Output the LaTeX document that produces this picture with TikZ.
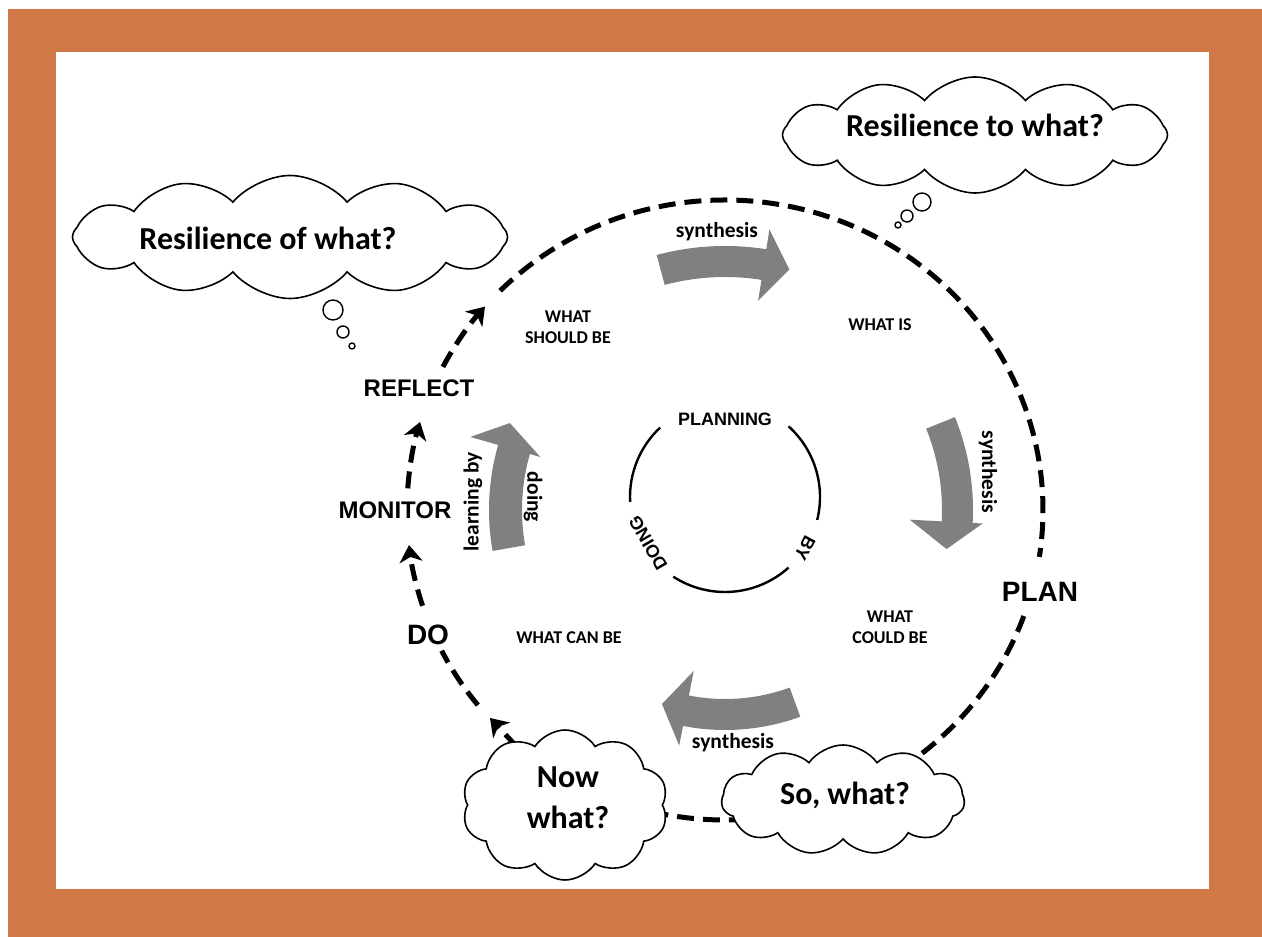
\documentclass[tikz,border=0pt]{standalone}
\usepackage{fontspec}
\setmainfont{Carlito}
\newfontfamily\arialf{Liberation Sans}
\usetikzlibrary{shapes.symbols,arrows.meta,calc}
\definecolor{frame}{RGB}{208,120,70}
\definecolor{arrowgray}{RGB}{128,128,128}
\newcommand\grayarc[8]{%
  \fill[arrowgray] ($(C)+(#1:#5pt)$) arc[start angle=#1,end angle=#2,radius=#5pt]
    -- ($(C)+(#2:#7pt)$) -- ($(C)+(#3:#8pt)$) -- ($(C)+(#2:#6pt)$)
    -- ($(C)+(#2:#4pt)$) arc[start angle=#2,end angle=#1,radius=#4pt] -- cycle;}
\begin{document}
\begin{tikzpicture}[x=1pt,y=1pt,
  cyc/.style={line width=5pt, dash pattern=on 17pt off 9pt},
  cyctip/.style={-{Stealth[length=17pt,width=23pt,inset=5pt]}},
  cloudbox/.style={cloud, cloud puffs=12, cloud puff arc=100, draw, line width=1.6pt, fill=white, cloud ignores aspect, inner sep=0pt},
  cloudtext/.style={font=\bfseries\fontsize{32}{41}\selectfont, align=center},
  stage/.style={font=\arialf\bfseries\fontsize{24}{28}\selectfont},
  bigstage/.style={font=\arialf\bfseries\fontsize{28}{32}\selectfont},
  inner/.style={font=\arialf\bfseries\fontsize{18}{20}\selectfont},
  small/.style={font=\bfseries\fontsize{18}{21}\selectfont, align=center},
  synth/.style={font=\bfseries\fontsize{21.5}{24}\selectfont},
  bubble/.style={circle, draw, line width=1.4pt, fill=white, inner sep=0pt}
]
\useasboundingbox (0,0) rectangle (1262,937);
\fill[white] (0,0) rectangle (1262,937);
\fill[frame] (8,0) rectangle (1262,928);
\fill[white] (56,48) rectangle (1209,885);

\coordinate (C) at (725,427);
\coordinate (c2) at (725,440);

% gray synthesis arrows
\grayarc{105}{81}{75}{233}{264}{212}{284}{249}
\grayarc{22}{-3}{-10}{217}{248}{185}{258}{225}
\grayarc{-70}{-101}{-108}{189}{220}{164}{240}{204}
\grayarc{190}{164}{158}{203}{236}{192}{265}{232}

% stage labels
\node[stage] (reflect) at (419,549) {REFLECT};
\node[stage] (monitor) at (395,427) {MONITOR};
\node[bigstage] (do) at (428,302) {DO};
\node[bigstage] (plan) at (1040,345) {PLAN};

% dashed cycle
\coordinate (p135) at ($(C)+(135:318pt and 310pt)$);
\coordinate (pm20) at ($(C)+(-20:318pt and 310pt)$);
\coordinate (nowout) at (517,190);
\coordinate (dotip) at (490,219);
\coordinate (pm141) at ($(C)+(-141:318pt and 310pt)$);
\coordinate (pm162) at ($(C)+(-162:318pt and 310pt)$);
\coordinate (p176) at ($(C)+(176:318pt and 310pt)$);
\coordinate (p152) at ($(C)+(152.5:318pt and 310pt)$);
\draw[cyc] (p135) arc[start angle=135, end angle=-8.7, x radius=318pt, y radius=310pt];
\draw[cyc] (pm20) arc[start angle=-20, end angle=-128, x radius=318pt, y radius=310pt];
\draw[cyc,cyctip] (nowout) -- (dotip);
\draw[cyc] (pm141) arc[start angle=-141, end angle=-153, x radius=318pt, y radius=310pt];
\draw[cyc,cyctip] (pm162) arc[start angle=-162, end angle=-173.5, x radius=318pt, y radius=310pt];
\draw[cyc,cyctip] (p176) arc[start angle=176, end angle=163.5, x radius=318pt, y radius=310pt];
\draw[cyc,cyctip] (p152) arc[start angle=152.5, end angle=139, x radius=318pt, y radius=310pt];

% clouds
\node[cloudbox, minimum width=435pt, minimum height=123pt] (cl1) at (290,700) {};
\node[cloudbox, minimum width=385pt, minimum height=116pt] (cl2) at (975,802) {};
\node[cloudbox, cloud puffs=10, cloud puff arc=115, minimum width=206pt, minimum height=150pt] (cl3) at (565,132) {};
\node[cloudbox, cloud puffs=11, cloud puff arc=110, minimum width=243pt, minimum height=110pt] (cl4) at (843,137) {};
\node[cloudtext] (q1) at (268,699) {Resilience of what?};
\node[cloudtext] (q2) at (975,812) {Resilience to what?};
\node[cloudtext] (q3) at (568,139) {Now\\what?};
\node[cloudtext] (q4) at (845,142) {So, what?};

% thought bubbles
\node[bubble, minimum size=20pt] (b1) at (333,627) {};
\node[bubble, minimum size=12pt] (b2) at (343,605) {};
\node[bubble, minimum size=6pt] (b3) at (352,591) {};
\node[bubble, minimum size=18pt] (b4) at (922,735) {};
\node[bubble, minimum size=12pt] (b5) at (907,721) {};
\node[bubble, minimum size=6pt] (b6) at (898,712) {};

% quadrant labels
\node[small] (wsb) at (568,610) {WHAT\\SHOULD BE};
\node[small] (wis) at (880,612) {WHAT IS};
\node[small] (wcan) at (569,299) {WHAT CAN BE};
\node[small] (wcould) at (890,310) {WHAT\\COULD BE};

% synthesis labels
\node[synth] (s1) at (717,705) {synthesis};
\node[synth, rotate=-90] (s2) at (988,465) {synthesis};
\node[synth] (s3) at (733,194) {synthesis};
\node[synth, rotate=90] (lb) at (473,435) {learning by};
\node[synth, rotate=-90] (dg) at (533,440) {doing};

% inner circle
\draw[line width=2.4pt] ($(c2)+(133:95pt)$) arc[start angle=133,end angle=183,radius=95pt];
\draw[line width=2.4pt] ($(c2)+(48:95pt)$) arc[start angle=48,end angle=-14,radius=95pt];
\draw[line width=2.4pt] ($(c2)+(-123:95pt)$) arc[start angle=-123,end angle=-48,radius=95pt];
\node[inner] (planning) at (725,518) {PLANNING};
\node[inner, rotate=-118] (by) at (805,389) {BY};
\node[inner, rotate=120] (doing) at (648,394) {DOING};
\end{tikzpicture}
\end{document}
